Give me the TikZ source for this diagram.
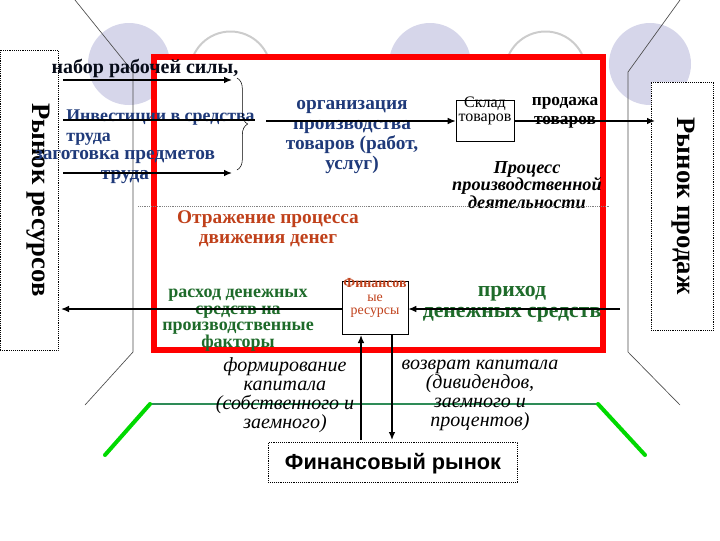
\documentclass[tikz,border=0pt]{standalone}
\usepackage{fontspec}
\setmainfont{Liberation Serif}
\newfontfamily\arialf{Liberation Sans}
\usetikzlibrary{arrows.meta,decorations.pathreplacing}
\definecolor{navy}{HTML}{1F3A7A}
\definecolor{lav}{HTML}{D6D6EA}
\definecolor{dgreen}{HTML}{1E6B2A}
\definecolor{brownred}{HTML}{C0401A}
\definecolor{teal}{HTML}{2E8B57}
\tikzset{
  arr/.style={draw,line width=1pt,-{Latex[length=6pt,width=5pt]}},
  btxt/.style={font=\fontsize{14.5}{15}\selectfont\bfseries,align=center,inner sep=0},
  itxt/.style={font=\fontsize{15}{14.3}\selectfont\itshape,align=center,inner sep=0},
  side/.style={draw,densely dotted,inner sep=0},
}
\begin{document}
\begin{tikzpicture}[x=0.75pt,y=-0.75pt]
\useasboundingbox (0,0) rectangle (720,540);
% background circles
\fill[lav] (129,64) circle (41);
\draw[gray!40,line width=1.5pt] (230.5,72) circle (40.5);
\fill[lav] (430,64) circle (41);
\draw[gray!40,line width=1.5pt] (545.5,72) circle (40.5);
\fill[lav] (650,64) circle (41);
% gray frame lines
\draw[black!70,line width=0.5pt] (75,0) -- (133,72) -- (133,352) -- (85,405);
\draw[black!70,line width=0.5pt] (680,0) -- (628,72) -- (628,352) -- (680,405);
% green
\draw[teal,line width=1.2pt] (150,404) -- (598,404);
\draw[green!85!black,line width=3pt,line cap=round] (150,404) -- (105,455);
\draw[green!85!black,line width=3pt,line cap=round] (598,404) -- (645,455);
% red frame
\draw[red,fill=white,line width=4.5pt] (154,57) rectangle (603,350);
% side boxes
\node[side,fill=white,minimum width=43.5pt,minimum height=225pt] (lm) at (29,200) {};
\node[rotate=-90,font=\fontsize{20}{20}\selectfont\bfseries] (lmt) at (38,200) {Рынок ресурсов};
\node[side,fill=white,minimum width=46.5pt,minimum height=186pt] (rm) at (682,206) {};
\node[rotate=-90,font=\fontsize{20}{20}\selectfont\bfseries] (rmt) at (683,206) {Рынок продаж};
% texts left
\node[btxt,text=black!80!navy,font=\fontsize{15}{15}\selectfont\bfseries] (nab) at (145,68) {набор рабочей силы,};
\node[btxt,text=navy,align=left,anchor=north west,font=\fontsize{13.4}{15}\selectfont\bfseries] (inv) at (66,110) {Инвестиции в средства\\труда};
\node[btxt,text=navy] (zag) at (125,167) {заготовка предметов\\труда};
\coordinate (a1) at (63,80); \coordinate (a1e) at (232,80);
\coordinate (a2) at (63,120); \coordinate (a2e) at (255,120);
\coordinate (a3) at (63,173); \coordinate (a3e) at (232,173);
\draw[arr] (a1) -- (a1e);
\draw[line width=1pt] (a2) -- (a2e);
\draw[arr] (a3) -- (a3e);
\draw[decorate,decoration={brace,amplitude=8pt}] (237,78) -- (237,170);
\node[btxt,text=navy] (org) at (352,137) {организация\\производства\\товаров (работ,\\услуг)};
\node[draw,minimum width=43.5pt,minimum height=31pt,inner sep=0] (skl) at (485,121) {};
\node[font=\fontsize{12}{11}\selectfont,align=center,inner sep=0] (sklt) at (485,111) {Склад\\товаров};
\coordinate (b1) at (266,121);
\coordinate (b2) at (655,121);
\draw[arr] (b1) -- (skl.west);
\draw[arr] (skl.east) -- (b2);
\node[btxt,font=\fontsize{13}{14}\selectfont\bfseries] (prod) at (565,113) {продажа\\товаров};
\node[font=\fontsize{13.7}{13}\selectfont\bfseries\itshape,align=center,inner sep=0] (proc) at (527,185) {Процесс\\производственной\\деятельности};
\coordinate (d1) at (138,206); \coordinate (d2) at (610,206);
\draw[densely dotted,gray] (d1) -- (d2);
\node[btxt,text=brownred] (otr) at (268,229) {Отражение процесса\\движения денег};
% finance
\node[draw,fill=white,minimum width=49.5pt,minimum height=40pt,inner sep=0] (fin) at (375,308) {};
\node[font=\fontsize{10.4}{10}\selectfont,text=brownred,align=center,inner sep=0] (fint) at (375,298) {\textbf{Финансов}\\ые\\ресурсы};
\node[btxt,text=dgreen,font=\fontsize{13.5}{12.5}\selectfont\bfseries] (ras) at (238,320) {расход денежных\\средств на\\производственные\\факторы};
\node[btxt,text=dgreen,font=\fontsize{16.3}{16}\selectfont\bfseries] (pri) at (512,304) {приход\\денежных средств};
\coordinate (lt) at (61,309);
\coordinate (rt) at (620,309);
\draw[arr] (fin.west |- lt) -- (lt);
\draw[arr] (rt) -- (fin.east |- rt);
\node[side,minimum width=187pt,minimum height=30pt] (fr) at (393,462) {};
\node[font=\arialf\fontsize{16.3}{16}\selectfont\bfseries] (frt) at (393,464) {Финансовый рынок};
\draw[arr] (361,440) -- (361,335);
\draw[arr] (392,335) -- (392,440);
\node[itxt] (form) at (285,395) {формирование\\капитала\\(собственного и\\заемного)};
\node[itxt] (voz) at (480,395) {возврат капитала\\(дивидендов,\\заемного и\\процентов)};
\end{tikzpicture}
\end{document}
